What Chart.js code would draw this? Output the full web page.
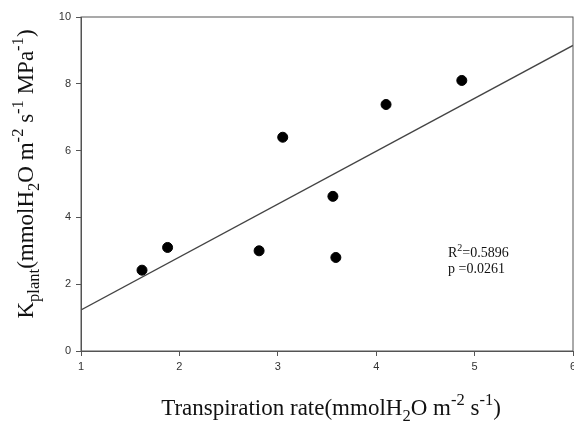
<!DOCTYPE html>
<html lang="en">
<head>
  <meta charset="UTF-8">
  <title>Kplant vs transpiration rate</title>
  <script src="https://cdn.jsdelivr.net/npm/chart.js"></script>
  <style>
    body { margin: 0; background: #fff; }
    canvas { display: block; }
  </style>
</head>
<body>
  <canvas id="myChart" width="574" height="422"></canvas>

  <script>
    // measured points
    const transpiration = [1.62, 1.88, 2.81, 3.05, 3.56, 3.59, 4.10, 4.87];
    const kplant = [2.42, 3.10, 3.00, 6.40, 4.63, 2.80, 7.38, 8.10];

    // regression line end points
    const fitX = [1, 6];
    const fitY = [1.23, 9.15];

    const xTicks = [1, 2, 3, 4, 5, 6];
    const yTicks = [0, 2, 4, 6, 8, 10];

    const statLines = ['R|2|=0.5896', 'p =0.0261'];

    const axisColor = '#555';
    const serif = '"Liberation Serif", "Times New Roman", serif';

    // draw text pieces with sub/superscripts, centred on x
    function drawRich(ctx, segs, cx, cy, size) {
      let total = 0;
      segs.forEach(s => {
        let sz = s[1] === 'n' ? size : size * 0.72;
        ctx.font = sz + 'px ' + serif;
        s.w = ctx.measureText(s[0]).width;
        s.sz = sz;
        total += s.w;
      });
      let x = cx - total / 2;
      ctx.textAlign = 'left';
      ctx.textBaseline = 'alphabetic';
      segs.forEach(s => {
        ctx.font = s.sz + 'px ' + serif;
        let dy = 0;
        if (s[1] === 'sub') dy = size * 0.28;
        if (s[1] === 'sup') dy = -size * 0.42;
        ctx.fillText(s[0], x, cy + dy);
        x += s.w;
      });
    }

    const decorations = {
      id: 'decorations',
      afterDraw(chart) {
        const ctx = chart.ctx;
        const area = chart.chartArea;
        ctx.save();

        // frame
        ctx.strokeStyle = axisColor;
        ctx.lineWidth = 1;
        ctx.strokeRect(area.left, area.top, area.right - area.left, area.bottom - area.top);

        ctx.fillStyle = '#111';

        // x title
        drawRich(ctx, [
          ['Transpiration rate(mmolH', 'n'], ['2', 'sub'], ['O m', 'n'],
          ['-2', 'sup'], [' s', 'n'], ['-1', 'sup'], [')', 'n']
        ], 331, 415, 23);

        // y title
        ctx.save();
        ctx.translate(33, 174);
        ctx.rotate(-Math.PI / 2);
        drawRich(ctx, [
          ['K', 'n'], ['plant', 'sub'], ['(mmolH', 'n'], ['2', 'sub'], ['O m', 'n'],
          ['-2', 'sup'], [' s', 'n'], ['-1', 'sup'], [' MPa', 'n'], ['-1', 'sup'], [')', 'n']
        ], 0, 0, 23);
        ctx.restore();

        // stats text
        const sx = chart.scales.x.getPixelForValue(4.73);
        const sy = chart.scales.y.getPixelForValue(2.8);
        ctx.textAlign = 'left';
        ctx.textBaseline = 'alphabetic';
        let parts = statLines[0].split('|');
        ctx.font = '14px ' + serif;
        ctx.fillText(parts[0], sx, sy);
        let w = ctx.measureText(parts[0]).width;
        ctx.font = '10px ' + serif;
        ctx.fillText(parts[1], sx + w, sy - 6);
        let w2 = ctx.measureText(parts[1]).width;
        ctx.font = '14px ' + serif;
        ctx.fillText(parts[2], sx + w + w2, sy);
        ctx.fillText(statLines[1], sx, sy + 16);

        ctx.restore();
      }
    };

    let ctx = document.getElementById('myChart').getContext('2d');

    new Chart(ctx, {
      type: 'scatter',
      data: {
        datasets: [
          {
            label: 'Kplant',
            data: transpiration.map((x, i) => ({ x: x, y: kplant[i] })),
            backgroundColor: '#000',
            borderColor: '#000',
            pointRadius: 5,
            pointHoverRadius: 5
          },
          {
            label: 'Fit',
            type: 'line',
            data: fitX.map((x, i) => ({ x: x, y: fitY[i] })),
            borderColor: '#444',
            borderWidth: 1.3,
            pointRadius: 0,
            fill: false
          }
        ]
      },
      options: {
        responsive: false,
        animation: false,
        layout: { autoPadding: false, padding: { top: 17, right: 1 } },
        plugins: {
          legend: { display: false },
          tooltip: { enabled: false }
        },
        scales: {
          x: {
            type: 'linear',
            min: 1,
            max: 6,
            afterFit(scale) {
              scale.height = 71;
              scale.paddingLeft = 0;
              scale.paddingRight = 0;
            },
            afterBuildTicks(scale) { scale.ticks = xTicks.map(v => ({ value: v })); },
            grid: { drawOnChartArea: false, color: axisColor, tickLength: 5 },
            border: { color: axisColor },
            ticks: {
              color: '#333',
              padding: 4,
              font: { family: '"Liberation Sans", Arial, sans-serif', size: 11 }
            }
          },
          y: {
            min: 0,
            max: 10,
            afterFit(scale) {
              scale.width = 81;
              scale.paddingTop = 0;
              scale.paddingBottom = 0;
            },
            afterBuildTicks(scale) { scale.ticks = yTicks.map(v => ({ value: v })); },
            grid: { drawOnChartArea: false, color: axisColor, tickLength: 5 },
            border: { color: axisColor },
            ticks: {
              color: '#333',
              padding: 5,
              font: { family: '"Liberation Sans", Arial, sans-serif', size: 11 }
            }
          }
        }
      },
      plugins: [decorations]
    });
  </script>
</body>
</html>
